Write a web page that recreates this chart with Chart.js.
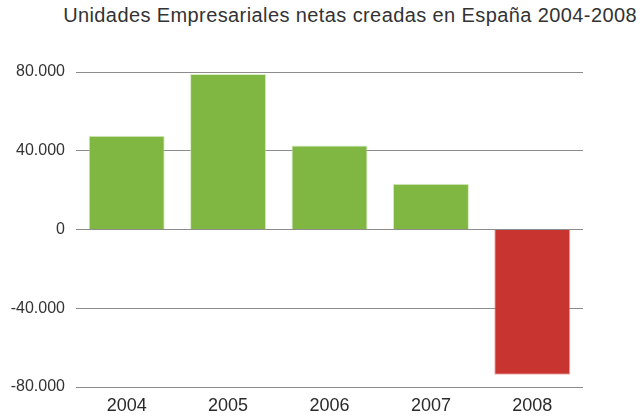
<!DOCTYPE html>
<html>
<head>
<meta charset="utf-8">
<script src="https://cdn.jsdelivr.net/npm/chart.js@4/dist/chart.umd.min.js"></script>
<style>
  html, body { margin: 0; padding: 0; background: #fff; }
  #wrap { position: relative; width: 643px; height: 419px; }
  #title {
    position: absolute; top: 4px; right: 6px;
    font-family: "Liberation Sans", Arial, sans-serif;
    font-size: 20px; letter-spacing: 0.4px; color: #333; white-space: nowrap;
  }
  canvas { position: absolute; left: 0; top: 0; }
</style>
</head>
<body>
<div id="wrap">
  <div id="title">Unidades Empresariales netas creadas en España 2004-2008</div>
  <canvas id="chart" width="643" height="419"></canvas>
</div>
<script>
  // net business units created per year
  const years = ['2004', '2005', '2006', '2007', '2008'];
  const netUnits = [47600, 79000, 42700, 23300, -73800];
  const yTicks = [-80000, -40000, 0, 40000, 80000];

  const green = '#80b743';
  const red = '#c83430';

  // thousands with a dot, like 80.000
  function fmt(v) {
    const s = Math.abs(v).toString().replace(/\B(?=(\d{3})+(?!\d))/g, '.');
    return (v < 0 ? '-' : '') + s;
  }

  const config = {
    type: 'bar',
    data: {
      labels: years,
      datasets: [{
        data: netUnits,
        backgroundColor: netUnits.map(v => v < 0 ? red : green),
        borderColor: netUnits.map(v => v < 0 ? 'rgba(230,140,140,0.7)' : 'rgba(200,230,170,0.7)'),
        borderWidth: 1,
        barPercentage: 0.75,
        categoryPercentage: 1.0
      }]
    },
    options: {
      responsive: false,
      animation: false,
      layout: { padding: { top: 72, right: 60, bottom: 4, left: 0 } },
      plugins: {
        legend: { display: false },
        title: { display: false },
        tooltip: { enabled: false }
      },
      scales: {
        x: {
          afterFit: function(scale) {
            scale.height = 28;
          },
          grid: { display: false, drawTicks: false },
          border: { display: false },
          ticks: {
            color: '#2a2a2a',
            padding: 8,
            font: { family: '"Liberation Sans", Arial, sans-serif', size: 18 }
          }
        },
        y: {
          min: -80000,
          max: 80000,
          z: 1,
          afterBuildTicks: function(scale) {
            scale.ticks = yTicks.map(v => ({ value: v }));
          },
          afterFit: function(scale) {
            scale.width = 76;
          },
          grid: {
            color: 'rgba(0,0,0,0.45)',
            lineWidth: 1,
            drawTicks: false
          },
          border: { display: false },
          ticks: {
            color: '#333',
            padding: 11,
            font: { family: '"Liberation Sans", Arial, sans-serif', size: 16 },
            callback: function(value) { return fmt(value); }
          }
        }
      }
    }
  };

  const netChart = new Chart(document.getElementById('chart'), config);
</script>
</body>
</html>
